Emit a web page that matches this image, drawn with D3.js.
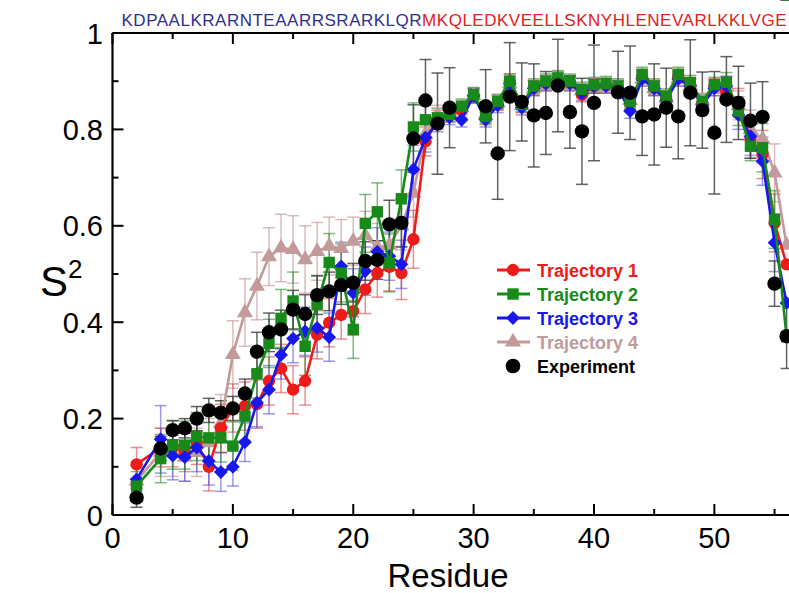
<!DOCTYPE html>
<html>
<head>
<meta charset="utf-8">
<script src="https://cdn.jsdelivr.net/npm/d3@7"></script>
<style>
  body { margin: 0; background: #fff; }
  svg { display: block; font-family: "Liberation Sans", Arial, Helvetica, sans-serif; }
</style>
</head>
<body>
<div id="chart"></div>
<script>
// Data
const residues = [2, 4, 5, 6, 7, 8, 9, 10,
    11, 12, 13, 14, 15, 16, 17, 18, 19, 20, 21, 22, 23, 24, 25,
    26, 27, 28, 29, 30, 31, 32, 33, 34, 35, 36, 37, 38, 39, 40, 41, 42, 43, 44, 45, 46, 47, 48, 49, 50, 51, 52, 53, 54, 55, 56];

const traj1 = [0.105, 0.14, 0.14, 0.13, 0.15, 0.10, 0.18, 0.222,
    0.226, 0.23, 0.278, 0.304, 0.26, 0.278, 0.374, 0.399, 0.415, 0.423, 0.468, 0.502, 0.515, 0.502, 0.572,
    0.775, 0.82, 0.83, 0.84, 0.87, 0.825, 0.855, 0.9, 0.85, 0.887, 0.897, 0.905, 0.897, 0.872, 0.89, 0.892, 0.887, 0.855, 0.91, 0.887, 0.865, 0.91, 0.893, 0.855, 0.89, 0.875, 0.855, 0.78, 0.748, 0.606, 0.52];
const traj1Err = [0.035, 0.04, 0.04, 0.04, 0.045, 0.05, 0.05, 0.05,
    0.05, 0.05, 0.05, 0.05, 0.05, 0.05, 0.05, 0.05, 0.05, 0.05, 0.05, 0.05, 0.05, 0.055, 0.06,
    0.03, 0.02, 0.015, 0.015, 0.015, 0.015, 0.015, 0.015, 0.015, 0.015, 0.015, 0.015, 0.015, 0.015, 0.015, 0.015, 0.015, 0.015, 0.015, 0.015, 0.015, 0.015, 0.015, 0.015, 0.015, 0.02, 0.03, 0.04, 0.05, 0.06];

const traj2 = [0.06, 0.117, 0.145, 0.145, 0.163, 0.16, 0.16, 0.143,
    0.205, 0.293, 0.356, 0.408, 0.444, 0.35, 0.437, 0.524, 0.502, 0.385, 0.605, 0.629, 0.523, 0.656, 0.805,
    0.82, 0.824, 0.831, 0.848, 0.872, 0.827, 0.858, 0.9, 0.852, 0.89, 0.9, 0.907, 0.9, 0.883, 0.893, 0.895, 0.89, 0.858, 0.914, 0.89, 0.869, 0.914, 0.897, 0.858, 0.893, 0.898, 0.838, 0.765, 0.762, 0.613, 0.37];
const traj2Err = [0.03, 0.05, 0.05, 0.05, 0.05, 0.05, 0.05, 0.05,
    0.05, 0.05, 0.05, 0.06, 0.06, 0.06, 0.06, 0.06, 0.06, 0.06, 0.06, 0.06, 0.06, 0.06, 0.05,
    0.03, 0.02, 0.015, 0.015, 0.015, 0.015, 0.015, 0.015, 0.015, 0.015, 0.015, 0.015, 0.015, 0.015, 0.015, 0.015, 0.015, 0.015, 0.015, 0.015, 0.015, 0.015, 0.015, 0.015, 0.015, 0.02, 0.03, 0.03, 0.05, 0.06];

const traj3 = [0.074, 0.157, 0.123, 0.12, 0.14, 0.112, 0.089, 0.1,
    0.151, 0.233, 0.26, 0.332, 0.366, 0.381, 0.388, 0.369, 0.516, 0.461, 0.506, 0.546, 0.537, 0.52, 0.717,
    0.783, 0.815, 0.825, 0.82, 0.87, 0.82, 0.85, 0.895, 0.845, 0.885, 0.895, 0.9, 0.895, 0.875, 0.89, 0.89, 0.885, 0.838, 0.905, 0.885, 0.86, 0.905, 0.89, 0.85, 0.885, 0.89, 0.83, 0.786, 0.734, 0.565, 0.44];
const traj3Err = [0.03, 0.07, 0.05, 0.05, 0.05, 0.05, 0.04, 0.04,
    0.04, 0.05, 0.05, 0.05, 0.05, 0.05, 0.05, 0.05, 0.05, 0.05, 0.05, 0.05, 0.05, 0.05, 0.05,
    0.03, 0.02, 0.015, 0.015, 0.015, 0.015, 0.015, 0.015, 0.015, 0.015, 0.015, 0.015, 0.015, 0.015, 0.015, 0.015, 0.015, 0.015, 0.015, 0.015, 0.015, 0.015, 0.015, 0.015, 0.015, 0.02, 0.03, 0.04, 0.05, 0.06];

const traj4 = [0.07, 0.13, 0.13, 0.12, 0.13, 0.15, 0.19, 0.333,
    0.42, 0.475, 0.536, 0.554, 0.551, 0.53, 0.547, 0.558, 0.553, 0.568, 0.58, 0.555, 0.56, 0.6, 0.668,
    0.79, 0.83, 0.835, 0.845, 0.87, 0.83, 0.855, 0.895, 0.85, 0.885, 0.895, 0.9, 0.895, 0.88, 0.89, 0.89, 0.885, 0.86, 0.905, 0.885, 0.865, 0.905, 0.89, 0.86, 0.885, 0.89, 0.85, 0.80, 0.78, 0.71, 0.56];
const traj4Err = [0.04, 0.05, 0.05, 0.05, 0.05, 0.05, 0.06, 0.07,
    0.07, 0.07, 0.06, 0.07, 0.07, 0.07, 0.06, 0.06, 0.06, 0.05, 0.05, 0.05, 0.05, 0.05, 0.05,
    0.03, 0.02, 0.015, 0.015, 0.015, 0.015, 0.015, 0.015, 0.015, 0.015, 0.015, 0.015, 0.015, 0.015, 0.015, 0.015, 0.015, 0.015, 0.015, 0.015, 0.015, 0.015, 0.015, 0.015, 0.015, 0.02, 0.03, 0.04, 0.05, 0.06];

const experiment = [0.036, 0.138, 0.176, 0.18, 0.20, 0.217, 0.212, 0.221,
    0.252, 0.339, 0.379, 0.385, 0.426, 0.417, 0.456, 0.464, 0.477, 0.482, 0.527, 0.529, 0.603, 0.606, 0.781,
    0.86, 0.812, 0.845, null, null, 0.848, 0.75, 0.868, 0.857, 0.829, 0.834, 0.891, 0.836, 0.796, 0.855, null, 0.877, 0.876, 0.827, 0.831, 0.845, 0.827, 0.876, 0.84, 0.793, 0.862, 0.855, 0.818, 0.826, 0.48, 0.371];
const experimentErr = [0.02, 0.025, 0.02, 0.02, 0.025, 0.025, 0.025, 0.025,
    0.03, 0.04, 0.04, 0.04, 0.04, 0.04, 0.04, 0.04, 0.04, 0.04, 0.04, 0.04, 0.05, 0.05, 0.07,
    0.085, 0.105, 0.083, null, null, 0.076, 0.095, 0.112, 0.081, 0.107, 0.086, 0.096, 0.075, 0.11, 0.12, null, 0.085, 0.097, 0.081, 0.105, 0.082, 0.088, 0.11, 0.079, 0.127, 0.089, 0.076, 0.078, 0.073, 0.047, 0.067];

const sequenceA = "KDPAALKRARNTEAARRSRARKLQR";
const sequenceB = "MKQLEDKVEELLSKNYHLENEVARLKKLVGE";
const xTicks = [0, 10, 20, 30, 40, 50];
const yTicks = [0, 0.2, 0.4, 0.6, 0.8, 1];

const seriesList = [
    { name: 'Trajectory 4', values: traj4, errs: traj4Err, color: '#c29a9a', bar: 'rgba(200,150,150,0.65)', shape: 'triangle' },
    { name: 'Trajectory 1', values: traj1, errs: traj1Err, color: '#ee1b1b', bar: 'rgba(225,70,70,0.6)', shape: 'circle' },
    { name: 'Trajectory 3', values: traj3, errs: traj3Err, color: '#1717ee', bar: 'rgba(70,70,225,0.55)', shape: 'diamond' },
    { name: 'Trajectory 2', values: traj2, errs: traj2Err, color: '#178a1a', bar: 'rgba(40,140,40,0.6)', shape: 'square' }
];

const legendItems = [
    { name: 'Trajectory 1', color: '#ee1b1b', shape: 'circle', line: true },
    { name: 'Trajectory 2', color: '#178a1a', shape: 'square', line: true },
    { name: 'Trajectory 3', color: '#1717ee', shape: 'diamond', line: true },
    { name: 'Trajectory 4', color: '#c29a9a', shape: 'triangle', line: true },
    { name: 'Experiment', color: '#000000', shape: 'bigcircle', line: false }
];

function getEl(id) {
    return document.getElementById(id);
}

function symbolPath(shape) {
    if (shape === 'circle') return d3.symbol(d3.symbolCircle, 120)();
    if (shape === 'bigcircle') return d3.symbol(d3.symbolCircle, 170)();
    if (shape === 'square') return d3.symbol(d3.symbolSquare, 130)();
    if (shape === 'diamond') return d3.symbol(d3.symbolSquare, 95)();
    return d3.symbol(d3.symbolTriangle, 110)();
}

function symbolRotate(shape) {
    return shape === 'diamond' ? ' rotate(45)' : '';
}

function renderChart() {
    const width = 789, height = 593;
    const x = d3.scaleLinear().domain([0, 56.2]).range([112.5, 789]);
    const y = d3.scaleLinear().domain([0, 1]).range([515, 33]);

    const svg = d3.select('#chart').append('svg')
        .attr('width', width)
        .attr('height', height);

    svg.append('rect').attr('width', width).attr('height', height).attr('fill', '#fff');

    // sequence on top
    const seq = svg.append('text')
        .attr('x', 121.5)
        .attr('y', 26)
        .attr('font-size', 17)
        .attr('textLength', 665)
        .attr('lengthAdjust', 'spacing');
    seq.append('tspan').attr('fill', '#2f2f8e').text(sequenceA);
    seq.append('tspan').attr('fill', '#e3201e').text(sequenceB);

    // error bars
    const capW = 6;
    const drawBars = (vals, errs, color, width) => {
        const pts = residues.map((r, i) => ({ r, v: vals[i], e: errs[i] })).filter(d => d.v != null);
        const g = svg.append('g').attr('stroke', color).attr('stroke-width', width).attr('fill', 'none');
        pts.forEach(d => {
            const cx = x(d.r);
            const y1 = y(d.v + d.e), y2 = y(d.v - d.e);
            g.append('line').attr('x1', cx).attr('x2', cx).attr('y1', y1).attr('y2', y2);
            g.append('line').attr('x1', cx - capW).attr('x2', cx + capW).attr('y1', y1).attr('y2', y1);
            g.append('line').attr('x1', cx - capW).attr('x2', cx + capW).attr('y1', y2).attr('y2', y2);
        });
    };

    seriesList.forEach(s => drawBars(s.values, s.errs, s.bar, 1.5));
    drawBars(experiment, experimentErr, 'rgba(60,60,60,0.8)', 1.5);

    // lines + markers
    const line = d3.line().x(d => x(d.r)).y(d => y(d.v));
    seriesList.forEach(s => {
        const pts = residues.map((r, i) => ({ r, v: s.values[i] }));
        svg.append('path')
            .attr('d', line(pts))
            .attr('fill', 'none')
            .attr('stroke', s.color)
            .attr('stroke-width', 2.6)
            .attr('stroke-linejoin', 'round');
        svg.append('g').selectAll('path')
            .data(pts)
            .enter()
            .append('path')
            .attr('d', symbolPath(s.shape))
            .attr('transform', d => `translate(${x(d.r)},${y(d.v)})${symbolRotate(s.shape)}`)
            .attr('fill', s.color);
    });

    const expPts = residues.map((r, i) => ({ r, v: experiment[i] })).filter(d => d.v != null);
    svg.append('g').selectAll('circle')
        .data(expPts)
        .enter()
        .append('circle')
        .attr('cx', d => x(d.r))
        .attr('cy', d => y(d.v))
        .attr('r', 7.2)
        .attr('fill', '#000');

    // axes
    const axisG = svg.append('g').attr('stroke', '#000').attr('stroke-width', 2.2);
    axisG.append('line').attr('x1', x(0)).attr('x2', width).attr('y1', y(0)).attr('y2', y(0));
    axisG.append('line').attr('x1', x(0)).attr('x2', width).attr('y1', y(1)).attr('y2', y(1));
    axisG.append('line').attr('x1', x(0)).attr('x2', x(0)).attr('y1', y(0)).attr('y2', y(1));

    const xMinor = d3.range(5, 56, 10);
    const yMinor = d3.range(0.1, 1, 0.2);
    const tickG = svg.append('g').attr('stroke', '#000').attr('stroke-width', 2);
    xTicks.forEach(t => {
        tickG.append('line').attr('x1', x(t)).attr('x2', x(t)).attr('y1', y(0)).attr('y2', y(0) - 11);
        tickG.append('line').attr('x1', x(t)).attr('x2', x(t)).attr('y1', y(1)).attr('y2', y(1) + 11);
    });
    xMinor.forEach(t => {
        tickG.append('line').attr('x1', x(t)).attr('x2', x(t)).attr('y1', y(0)).attr('y2', y(0) - 6);
        tickG.append('line').attr('x1', x(t)).attr('x2', x(t)).attr('y1', y(1)).attr('y2', y(1) + 6);
    });
    yTicks.forEach(t => {
        tickG.append('line').attr('x1', x(0)).attr('x2', x(0) + 11).attr('y1', y(t)).attr('y2', y(t));
    });
    yMinor.forEach(t => {
        tickG.append('line').attr('x1', x(0)).attr('x2', x(0) + 6).attr('y1', y(t)).attr('y2', y(t));
    });

    svg.append('g').selectAll('text')
        .data(xTicks)
        .enter()
        .append('text')
        .attr('x', d => x(d))
        .attr('y', 548)
        .attr('text-anchor', 'middle')
        .attr('font-size', 29)
        .text(d => d);

    svg.append('g').selectAll('text')
        .data(yTicks)
        .enter()
        .append('text')
        .attr('x', 103)
        .attr('y', d => y(d) + 10.5)
        .attr('text-anchor', 'end')
        .attr('font-size', 29)
        .text(d => d === 0 || d === 1 ? d : d.toFixed(1));

    svg.append('text')
        .attr('x', 448)
        .attr('y', 587)
        .attr('text-anchor', 'middle')
        .attr('font-size', 33)
        .text('Residue');

    const yl = svg.append('text')
        .attr('x', 40)
        .attr('y', 296)
        .attr('font-size', 42);
    yl.append('tspan').text('S');
    yl.append('tspan').attr('font-size', 26).attr('dy', -18).text('2');

    // legend
    const lg = svg.append('g');
    legendItems.forEach((item, i) => {
        const cy = 270 + i * 24;
        if (item.line) {
            lg.append('line')
                .attr('x1', 497).attr('x2', 530)
                .attr('y1', cy).attr('y2', cy)
                .attr('stroke', item.color).attr('stroke-width', 3);
        }
        lg.append('path')
            .attr('d', symbolPath(item.shape))
            .attr('transform', `translate(513,${cy})${symbolRotate(item.shape)}`)
            .attr('fill', item.color);
        lg.append('text')
            .attr('x', 537)
            .attr('y', cy + 6.5)
            .attr('font-size', 18)
            .attr('font-weight', 'bold')
            .attr('fill', item.color)
            .text(item.name);
    });
}

document.addEventListener('DOMContentLoaded', () => {
    if (typeof d3 !== 'undefined' && getEl('chart')) renderChart();
});
</script>
</body>
</html>
